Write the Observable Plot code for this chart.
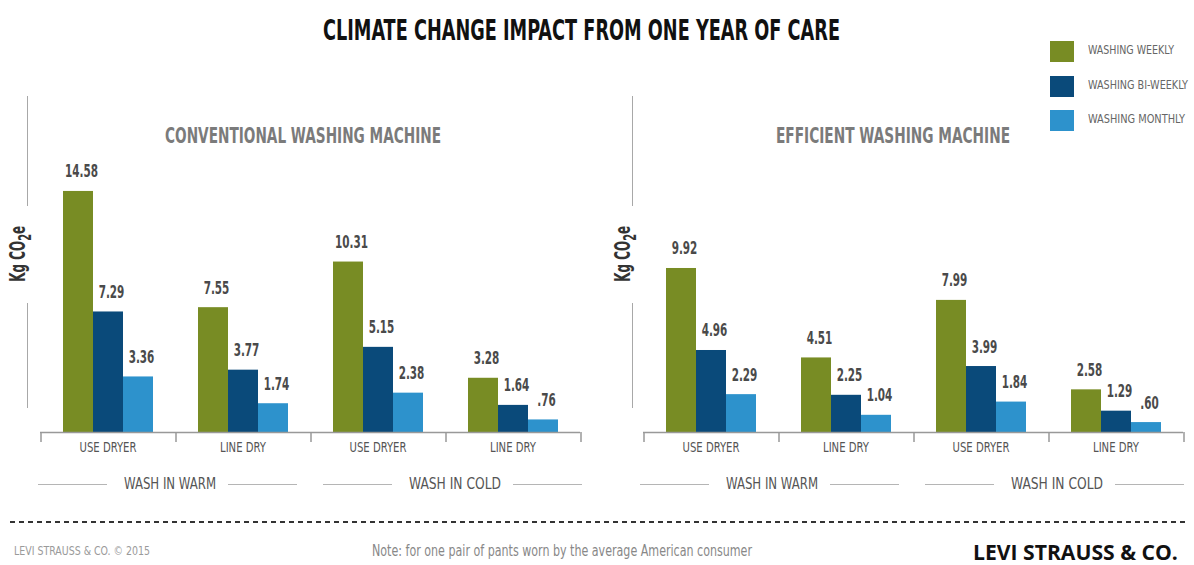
<!DOCTYPE html>
<html><head><meta charset="utf-8">
<script src="https://cdn.jsdelivr.net/npm/d3@7"></script>
<script src="https://cdn.jsdelivr.net/npm/@observablehq/plot@0.6"></script>
<style>
html,body{margin:0;background:#fff;}
#root{position:relative;width:1194px;height:565px;}
.abs{position:absolute;white-space:nowrap;transform-origin:left center;}
.hl{position:absolute;height:1px;background:#b5b5b5;}
.vl{position:absolute;width:1px;background:#a8a8a8;}
</style></head><body><div id="root"></div>
<script>
// ---------- data ----------
const series = ["WASHING WEEKLY", "WASHING BI-WEEKLY", "WASHING MONTHLY"];
const seriesColors = ["#788c24", "#0a4a7a", "#2d92cc"];
const groups = ["warm-dryer", "warm-line", "cold-dryer", "cold-line"];
const groupLabels = ["USE DRYER", "LINE DRY", "USE DRYER", "LINE DRY"];
const temperatures = ["WASH IN WARM", "WASH IN COLD"];
const machines = ["CONVENTIONAL WASHING MACHINE", "EFFICIENT WASHING MACHINE"];
const conventionalWeekly   = [14.58, 7.55, 10.31, 3.28];
const conventionalBiWeekly = [7.29, 3.77, 5.15, 1.64];
const conventionalMonthly  = [3.36, 1.74, 2.38, 0.76];
const efficientWeekly      = [9.92, 4.51, 7.99, 2.58];
const efficientBiWeekly    = [4.96, 2.25, 3.99, 1.29];
const efficientMonthly     = [2.29, 1.04, 1.84, 0.60];
const title = "CLIMATE CHANGE IMPACT FROM ONE YEAR OF CARE";
const yLabel = "Kg CO<sub>2</sub>e";
const copyright = "LEVI STRAUSS & CO. \u00A9 2015";
const note = "Note: for one pair of pants worn by the average American consumer";
const brand = "LEVI STRAUSS & CO.";

const FONT = `"Liberation Sans Narrow", "DejaVu Sans Condensed", "Roboto", sans-serif`;
const root = document.getElementById("root");

function rowsFor(w, b, m) {
  const rows = [];
  groups.forEach((g, i) => {
    rows.push({group: g, series: series[0], value: w[i]});
    rows.push({group: g, series: series[1], value: b[i]});
    rows.push({group: g, series: series[2], value: m[i]});
  });
  return rows;
}
const fmt = v => v < 1 ? v.toFixed(2).slice(1) : v.toFixed(2);

function panel(rows) {
  return Plot.plot({
    width: 600, height: 405,
    marginLeft: 40, marginRight: 20, marginTop: 89, marginBottom: 68,
    style: {fontFamily: FONT, background: "transparent", color: "#555", overflow: "visible"},
    fx: {domain: groups, padding: 0, label: null},
    x: {domain: series, paddingInner: 0, paddingOuter: 0.75, axis: null},
    y: {domain: [0, 15], axis: null},
    color: {domain: series, range: seriesColors},
    marks: [
      Plot.barY(rows, {fx: "group", x: "series", y: "value", fill: "series"}),
      Plot.ruleY([0], {stroke: "#999", strokeWidth: 1.5}),
      Plot.ruleX(groups, {fx: d => d, x: () => series[0], dx: -37.5, y1: 0, y2: -0.6, stroke: "#999", strokeWidth: 1.5}),
      Plot.ruleX([groups[groups.length - 1]], {fx: d => d, x: () => series[2], dx: 37.5, y1: 0, y2: -0.6, stroke: "#999", strokeWidth: 1.5}),
      Plot.text(rows, {fx: "group", x: "series", y: "value", text: d => fmt(d.value), dy: -14, dx: 3,
        lineAnchor: "bottom", fill: "#4a4a4a", fontSize: 17, fontWeight: 600}),
      Plot.axisFx({anchor: "bottom", tickSize: 0, tickPadding: 10, label: null,
        tickFormat: g => groupLabels[groups.indexOf(g)], fontSize: 14, fill: "#555"})
    ]
  });
}

const plots = [
  panel(rowsFor(conventionalWeekly, conventionalBiWeekly, conventionalMonthly)),
  panel(rowsFor(efficientWeekly, efficientBiWeekly, efficientMonthly))
];
const panelLeft = [0, 603];
plots.forEach((p, i) => {
  p.style.position = "absolute";
  p.style.left = panelLeft[i] + "px";
  p.style.top = "95px";
  root.appendChild(p);
});

// condense svg texts to the reference's narrow lettering
function condense(selector, refText, refWidth) {
  const els = [...root.querySelectorAll(selector)];
  const ref = els.find(t => t.textContent === refText);
  if (!ref) return;
  const k = refWidth / ref.getComputedTextLength();
  els.forEach(t => {
    const L = t.getComputedTextLength();
    if (L > 0) { t.setAttribute("textLength", L * k); t.setAttribute("lengthAdjust", "spacingAndGlyphs"); }
  });
}
condense('g[aria-label="text"] text', "14.58", 33);
condense('g[aria-label="fx-axis tick label"] text', "USE DRYER", 57);

// ---------- html text helpers ----------
function place(html, {x, y, w, size, weight = "normal", color = "#555", family = FONT, resize = false, lh = 1.4}) {
  const d = document.createElement("div");
  d.className = "abs";
  d.innerHTML = html;
  const setSize = s => Object.assign(d.style, {fontSize: s + "px", lineHeight: (lh * s) + "px", top: (y - lh * s / 2) + "px"});
  Object.assign(d.style, {fontFamily: family, fontWeight: weight, color, left: x + "px"});
  setSize(size);
  root.appendChild(d);
  const r = d.getBoundingClientRect().width;
  if (w && r > 0) {
    if (resize) setSize(size * w / r);
    else d.style.transform = `scaleX(${w / r})`;
  }
  return d;
}

// title
place(title, {x: 323, y: 31, w: 517, size: 28, weight: "bold", color: "#111"});

// legend (colors from the plot's color scale)
const colorScale = plots[0].scale("color");
const legendY = [52, 87, 121];
const legendW = [86, 100, 97];
colorScale.domain.forEach((s, i) => {
  const sw = document.createElement("div");
  Object.assign(sw.style, {position: "absolute", left: "1050px", top: (legendY[i] - 11) + "px",
    width: "24px", height: "21px", background: colorScale.range[i]});
  root.appendChild(sw);
  place(s, {x: 1088, y: legendY[i] - 2, w: legendW[i], size: 13, color: "#666"});
});

// panels: titles, y axes, temperature labels
const titleX = [[165, 276], [776, 234]];
const axisX = [27, 632];
plots.forEach((p, i) => {
  place(machines[i], {x: titleX[i][0], y: 137, w: titleX[i][1], size: 21, weight: "bold", color: "#7b7b7b"});
  const v1 = document.createElement("div"); v1.className = "vl";
  Object.assign(v1.style, {left: axisX[i] + "px", top: "96px", height: "110px"});
  const v2 = document.createElement("div"); v2.className = "vl";
  Object.assign(v2.style, {left: axisX[i] + "px", top: "303px", height: "105px"});
  root.appendChild(v1); root.appendChild(v2);
  const yl = place(yLabel, {x: 0, y: 0, size: 21, weight: "bold", color: "#333"});
  yl.style.transformOrigin = "center center";
  const r = yl.getBoundingClientRect();
  yl.style.left = (axisX[i] - 5 - r.width / 2) + "px";
  yl.style.top = (254 - r.height / 2) + "px";
  yl.style.transform = `rotate(-90deg) scaleX(${56 / r.width})`;

  const centers = i === 0 ? [170, 455] : [772, 1057];
  temperatures.forEach((t, j) => {
    const c = centers[j];
    place(t, {x: c - 46, y: 484, w: 92, size: 16, color: "#555"});
    const l1 = document.createElement("div"); l1.className = "hl";
    Object.assign(l1.style, {left: (c - 132) + "px", top: "484px", width: "69px"});
    const l2 = document.createElement("div"); l2.className = "hl";
    Object.assign(l2.style, {left: (c + 58) + "px", top: "484px", width: "69px"});
    root.appendChild(l1); root.appendChild(l2);
  });
});

// footer
const dash = document.createElement("div");
Object.assign(dash.style, {position: "absolute", left: "10px", top: "521px", width: "1176px", height: "2px",
  background: "repeating-linear-gradient(to right,#333 0 5px,transparent 5px 9px)"});
root.appendChild(dash);
place(copyright, {x: 14, y: 551, w: 136, size: 12, color: "#9a9a9a"});
place(note, {x: 372, y: 551, w: 380, size: 15, color: "#888"});
place(brand, {x: 973, y: 552, w: 205, size: 18, weight: "bold", color: "#111", family: '"Open Sans", "Noto Sans", sans-serif', resize: true, lh: 1});
</script></body></html>
